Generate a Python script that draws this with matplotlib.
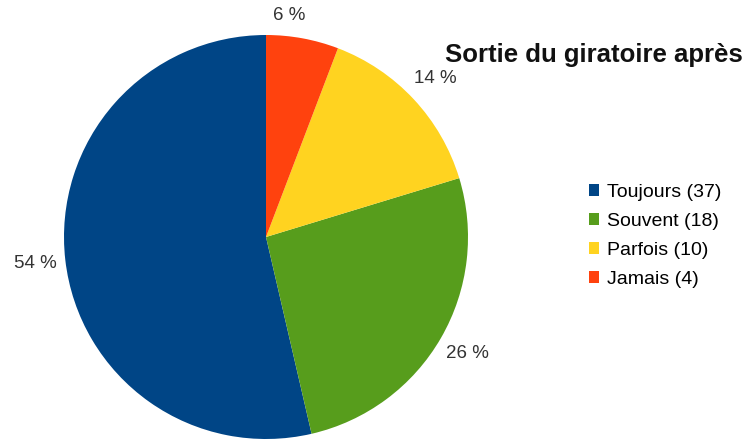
import numpy as np
import matplotlib.pyplot as plt
from matplotlib.patches import Patch

plt.rcParams['font.family'] = ['Liberation Sans', 'DejaVu Sans']

labels = ["Toujours", "Souvent", "Parfois", "Jamais"]
counts = [37, 18, 10, 4]
colors = ["#004586", "#579d1c", "#ffd320", "#ff420e"]
title = "Sortie du giratoire après"

W, H = 749, 442
fig = plt.figure(figsize=(W / 100, H / 100), dpi=100)

# pie center ~ (266, 237) px, radius ~ 202 px
cx, cy, r = 266, 237, 202
ax = fig.add_axes([(cx - r) / W, (H - cy - r) / H, 2 * r / W, 2 * r / H])

wedges, texts, autotexts = ax.pie(
    counts, colors=colors, startangle=90, counterclock=True,
    autopct=lambda p: "%d %%" % round(p), pctdistance=1.15,
    wedgeprops=dict(linewidth=0),
    textprops=dict(fontsize=13.5, color="#333333"))
ax.set_xlim(-1, 1)
ax.set_ylim(-1, 1)
ax.set_aspect('equal')
for w in wedges:
    w.set_clip_on(False)

# small slice near the top: label sits just above, to the left of its anchor
w = wedges[3]
a = np.deg2rad((w.theta1 + w.theta2) / 2)
autotexts[3].set_position((1.07 * np.cos(a), 1.07 * np.sin(a)))
autotexts[3].set_ha('right')
autotexts[3].set_va('bottom')

fig.text(445 / W, 1 - 62 / H, title, fontsize=18.5, fontweight='bold',
         ha='left', va='baseline', color="#111111")

handles = [Patch(facecolor=c, edgecolor='none') for c in colors]
leg_labels = ["%s (%d)" % (l, n) for l, n in zip(labels, counts)]
fig.legend(handles, leg_labels, loc='upper left',
           bbox_to_anchor=(579 / W, 1 - 174 / H), frameon=False,
           fontsize=14, handlelength=0.55, handleheight=0.55,
           handletextpad=0.4, labelspacing=0.62, borderpad=0)

fig.savefig("out.png", dpi=100)
